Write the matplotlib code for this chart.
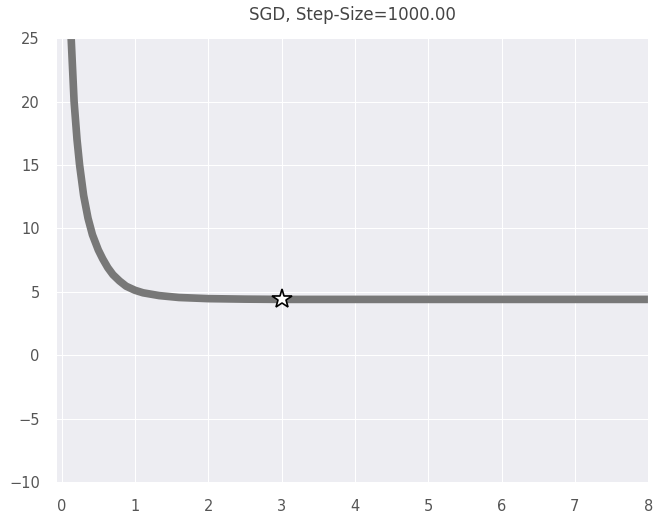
import numpy as np
import matplotlib
matplotlib.use("Agg")
import matplotlib.pyplot as plt
import seaborn as sns

# loss curve
steps = [0.10, 0.13, 0.17, 0.21, 0.245, 0.30, 0.36, 0.42, 0.50, 0.56, 0.63, 0.70,
         0.79, 0.88, 1.00, 1.11, 1.33, 1.60, 2.00, 2.50, 3.00, 4.00, 5.00, 6.00, 7.00, 8.00]
loss = [29.0, 25.0, 20.0, 17.0, 15.0, 12.6, 10.8, 9.5, 8.3, 7.6, 6.9, 6.35,
        5.85, 5.44, 5.12, 4.92, 4.70, 4.55, 4.46, 4.42, 4.40, 4.40, 4.40, 4.40, 4.40, 4.40]
best_step = [3.0]
best_loss = [4.4]

sns.set_style("darkgrid", {"axes.facecolor": "#EDEDF2"})
plt.rcParams['font.family'] = ['DejaVu Sans']

fig = plt.figure(figsize=(6.56, 5.15), dpi=100)
ax = fig.add_axes([0.085, 0.064, 0.903, 0.862])

ax.plot(steps, loss, color='#787878', linewidth=5.5, solid_capstyle='butt',
        solid_joinstyle='round')
ax.plot(best_step, best_loss, marker='*', markersize=15, markerfacecolor='white',
        markeredgecolor='black', markeredgewidth=1.2, linestyle='none')

ax.set_xlim(-0.08, 8)
ax.set_ylim(-10, 25)
ax.set_xticks(range(0, 9))
ax.set_yticks(range(-10, 26, 5))
ax.tick_params(labelsize=10.5, colors='#555555')
ax.tick_params(axis='x', pad=9)
ax.tick_params(axis='y', pad=8)
ax.set_title('SGD, Step-Size=1000.00', fontsize=12, color='#444444', pad=13)

fig.savefig('out.png', dpi=100)
